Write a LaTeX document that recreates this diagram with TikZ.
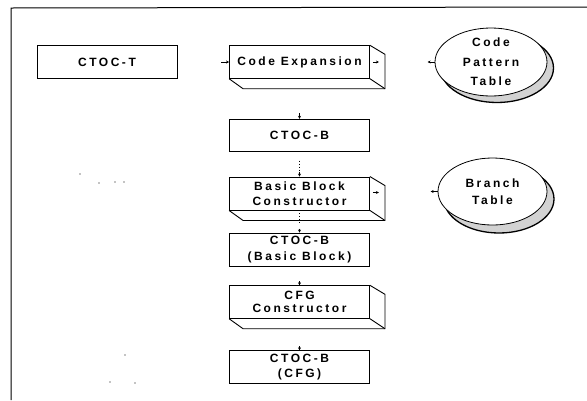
\documentclass[tikz,border=0pt]{standalone}
\usepackage{fontspec}
\newfontfamily\labfont{Liberation Sans}[LetterSpace=21]
\usetikzlibrary{arrows.meta,calc,shapes.geometric}
\tikzset{
  lab/.style={font=\labfont\bfseries\fontsize{12}{15}\selectfont, align=center},
  blk/.style={lab, draw, line width=0.9pt, minimum width=140pt, minimum height=32.5pt, inner sep=0pt},
  store/.style={lab, ellipse, draw, fill=white, line width=0.8pt, inner sep=0pt},
  shadowell/.style={ellipse, draw, fill=gray!35, line width=1.3pt, inner sep=0pt},
  stub/.style={-{Stealth[length=3pt,width=3pt]}, line width=0.8pt},
  dots/.style={dash pattern=on 1pt off 2pt, line width=0.8pt},
  frame/.style={line width=1pt},
  edge3d/.style={line width=0.9pt},
  speck/.style={fill=black}
}
\newcommand\extrude[1]{%
  \draw[edge3d] (#1.north east) -- ++(15,9) -- ($(#1.south east)+(15,10)$) -- ($(#1.south west)+(14,10)$) -- (#1.south west);
  \draw[edge3d] (#1.south east) -- ++(15,10);}
\begin{document}
\begin{tikzpicture}[x=1pt,y=-1pt]
\useasboundingbox (0,0) rectangle (587,400);
% frame
\draw[frame] (11,400) -- (11,8) -- (587,7);
% boxes
\node[blk] (ct) at (107,62) {CTOC-T};
\node[blk] (ce) at (299.5,62) {Code Expansion};
\extrude{ce}
\node[blk] (cb) at (299.5,135.5) {CTOC-B};
\node[blk, minimum height=33pt] (bbc) at (299.5,193.5) {Basic Block\\Constructor};
\extrude{bbc}
\node[blk, minimum height=33pt, font=\labfont\bfseries\fontsize{12}{16}\selectfont] (cbb) at (299.5,249.5) {CTOC-B\\(Basic Block)};
\node[blk, font=\labfont\bfseries\fontsize{12}{13.5}\selectfont] (cfg) at (299.5,302) {CFG\\Constructor};
\extrude{cfg}
\node[blk] (ccfg) at (299.5,367) {CTOC-B\\(CFG)};
% stores
\node[shadowell, minimum width=113pt, minimum height=69pt] (cpts) at (497,68) {};
\node[store, minimum width=112pt, minimum height=68pt, font=\labfont\bfseries\fontsize{12}{19.5}\selectfont] (cpt) at (491,62) {Code\\Pattern\\Table};
\node[shadowell, minimum width=110pt, minimum height=68pt] (bts) at (499,199) {};
\node[store, minimum width=109pt, minimum height=67pt, font=\labfont\bfseries\fontsize{12}{17}\selectfont] (bt) at (492.5,191.5) {Branch\\Table};
% arrow stubs
\draw[stub] ($(ce.west)+(-8,0)$) -- (ce.west);
\draw[stub] ($(ce.east)+(3,0)$) -- ($(ce.east)+(9,0)$);
\draw[stub] (cpt.west) -- ($(cpt.west)+(-7,0)$);
\draw[stub] ($(bbc.east)+(3,-1)$) -- ($(bbc.east)+(9,-1)$);
\draw[stub] (bt.west) -- ($(bt.west)+(-7,0)$);
\draw[stub] ($(cb.north)+(0,-6)$) -- (cb.north);
\draw[dots] ($(bbc.north)+(0,-16)$) -- ($(bbc.north)+(0,-6)$);
\draw[stub] ($(bbc.north)+(0,-5)$) -- (bbc.north);
\draw[dots] (bbc.south) -- ($(bbc.south)+(0,13)$);
\draw[stub] ($(cbb.north)+(0,-4)$) -- (cbb.north);
\draw[stub] ($(cfg.north)+(0,-4)$) -- (cfg.north);
\draw[stub] ($(ccfg.north)+(0,-4)$) -- (ccfg.north);
% scan specks
\foreach \p in {(80,174),(99,183),(115,182),(124,182),(125,355),(110,382),(135,383)}
  \fill[speck] \p circle (0.7);
\end{tikzpicture}
\end{document}
